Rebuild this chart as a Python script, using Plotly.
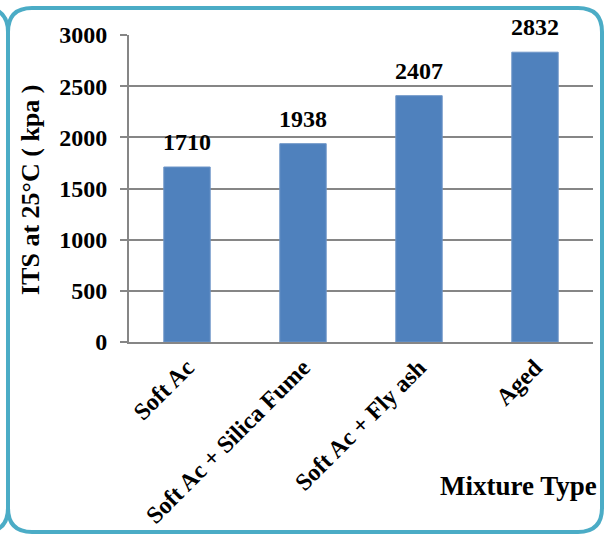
import plotly.graph_objects as go

mixtures = ["Soft Ac", "Soft Ac + Silica Fume", "Soft Ac + Fly ash", "Aged"]
its_values = [1710, 1938, 2407, 2832]
y_ticks = [0, 500, 1000, 1500, 2000, 2500, 3000]

W, H = 606, 535
ML, MR, MT, MB = 129, 13, 35, 193
PW, PH = W - ML - MR, H - MT - MB

FONT = "Liberation Serif"
BORDER = "#4BACC6"


def px(x):
    return (x - ML) / PW


def py(y):
    return (H - MB - y) / PH


def pt(x, y):
    return f"{px(x):.5f},{py(y):.5f}"


fig = go.Figure()
fig.add_trace(go.Bar(
    x=mixtures,
    y=its_values,
    width=0.4,
    marker=dict(color="#4F81BD", line=dict(color="#6E96C8", width=1)),
    cliponaxis=False,
))

# value labels above each bar
annotations = [
    dict(x=m, y=v, xref="x", yref="y", text=f"<b>{v}</b>", showarrow=False,
         xanchor="center", yanchor="bottom", yshift=10,
         font=dict(family=FONT, size=24, color="black"))
    for m, v in zip(mixtures, its_values)
]
annotations += [
    dict(text="<b>ITS at 25°C ( kpa )</b>", textangle=-90,
         xref="paper", yref="paper", x=px(30), y=py(190),
         xanchor="center", yanchor="middle",
         showarrow=False, font=dict(family=FONT, size=26, color="black")),
    dict(text="<b>Mixture Type</b>", xref="paper", yref="paper",
         x=px(518), y=py(486), xanchor="center", yanchor="middle",
         showarrow=False, font=dict(family=FONT, size=27, color="black")),
]

# rounded frame with the neighbouring frame's corner arcs on the left
x0, x1, y0, y1, r = 8, 602, 8, 532, 24
frame = (
    f"M {pt(x0, y0 + r)} Q {pt(x0, y0)} {pt(x0 + r, y0)} "
    f"L {pt(x1 - r, y0)} Q {pt(x1, y0)} {pt(x1, y0 + r)} "
    f"L {pt(x1, y1 - r)} Q {pt(x1, y1)} {pt(x1 - r, y1)} "
    f"L {pt(x0 + r, y1)} Q {pt(x0, y1)} {pt(x0, y1 - r)} Z"
)
left_top = f"M {pt(x0, y0 + r)} Q {pt(x0, y0)} {pt(x0 - r, y0)}"
left_bot = f"M {pt(x0, y1 - r)} Q {pt(x0, y1)} {pt(x0 - r, y1)}"

shapes = []
for p in (frame, left_top, left_bot):
    shapes.append(dict(type="path", xref="paper", yref="paper", path=p,
                       line=dict(color=BORDER, width=4), layer="above"))

fig.update_layout(
    width=W, height=H,
    margin=dict(l=ML, r=MR, t=MT, b=MB, pad=0, autoexpand=False),
    paper_bgcolor="white",
    plot_bgcolor="white",
    showlegend=False,
    shapes=shapes,
    annotations=annotations,
    xaxis=dict(
        tickangle=-45,
        tickvals=mixtures,
        ticktext=[f"<b>{m}</b>" for m in mixtures],
        tickfont=dict(family=FONT, size=24, color="black"),
        showline=True, linecolor="#868686", linewidth=2,
        showgrid=False, ticks="", automargin=False,
    ),
    yaxis=dict(
        range=[0, 3000],
        tickvals=y_ticks,
        ticktext=[f"<b>{t}</b>" for t in y_ticks],
        tickfont=dict(family=FONT, size=24, color="black"),
        showline=True, linecolor="#868686", linewidth=2,
        showgrid=True, gridcolor="#868686", gridwidth=2,
        zeroline=False, automargin=False,
        ticks="outside", ticklen=7, tickcolor="#868686", tickwidth=2,
        ticklabelstandoff=8,
    ),
)

fig.write_html("out.html")
